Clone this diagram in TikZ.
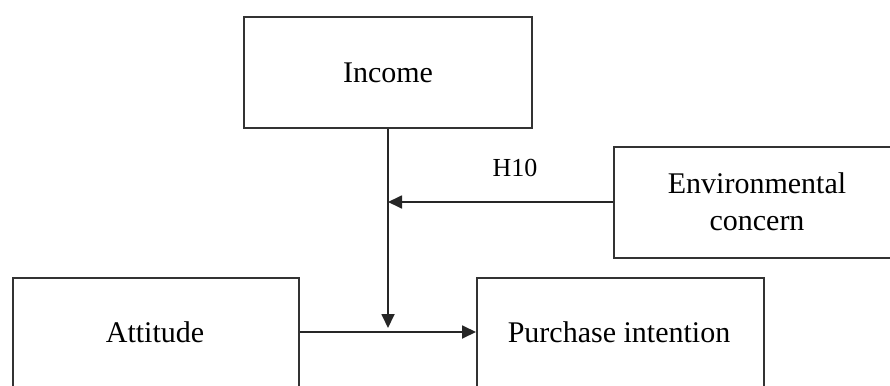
\documentclass[tikz,border=0pt]{standalone}
\usepackage{fontspec}
\setmainfont{Liberation Serif}
\usetikzlibrary{arrows.meta}
\begin{document}
\begin{tikzpicture}[x=1pt,y=-1pt,
  box/.style={draw=black!80,line width=2pt,minimum width=#1,inner sep=0pt,anchor=north west},
  conn/.style={draw=black!85,line width=1.8pt,-{Triangle[length=14pt,width=13pt]}},
  lbl/.style={font=\fontsize{30}{36}\selectfont,align=center}]
\useasboundingbox (0,0) rectangle (890,385);
\clip (0,0) rectangle (890,385);
\node[box=288pt,minimum height=111pt] (inc) at (243,16) {};
\node[lbl] at (inc.center) {Income};
\node[box=290pt,minimum height=111pt] (env) at (613,146) {};
\node[lbl,font=\fontsize{30}{37}\selectfont] at (757,202) {Environmental\\concern};
\node[box=286pt,minimum height=130pt] (att) at (12,277) {};
\node[lbl] at (155,332) {Attitude};
\node[box=287pt,minimum height=130pt] (pur) at (476,277) {};
\node[lbl] at (619,332) {Purchase intention};
\coordinate (m2) at (388,202);
\coordinate (m3) at (388,328);
\draw[conn] (inc.south -| m2) -- (m3);
\draw[conn] (env.west |- m2) -- (m2);
\draw[conn] (att.east |- 0,332) -- (pur.west |- 0,332);
\node[lbl,font=\fontsize{26}{30}\selectfont] (h10) at (515,168) {H10};
\end{tikzpicture}
\end{document}
